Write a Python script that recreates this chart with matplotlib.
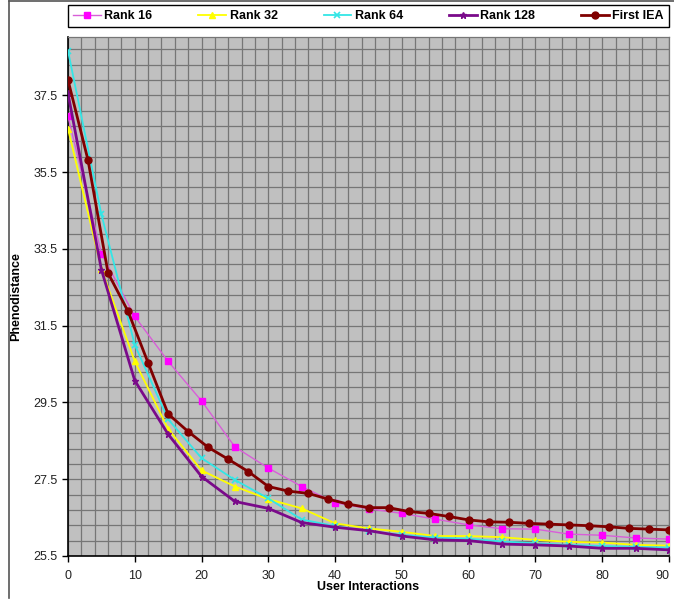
import matplotlib
matplotlib.use("Agg")
import matplotlib.pyplot as plt
from matplotlib.lines import Line2D

# x positions of the markers
x_rank = [0, 5, 10, 15, 20, 25, 30, 35, 40, 45, 50, 55, 60, 65, 70, 75, 80, 85, 90]
x_iea = list(range(0, 91, 3))

rank16 = [36.95, 33.38, 31.74, 30.57, 29.54, 28.34, 27.79, 27.31, 26.89, 26.73,
          26.61, 26.46, 26.31, 26.21, 26.20, 26.07, 26.04, 25.97, 25.94]
rank32 = [36.63, 32.98, 30.57, 28.81, 27.73, 27.31, 26.98, 26.74, 26.35, 26.22,
          26.13, 26.02, 26.02, 25.99, 25.92, 25.87, 25.85, 25.79, 25.77]
rank64 = [38.66, 34.40, 31.00, 29.06, 28.05, 27.48, 27.00, 26.45, 26.28, 26.15,
          26.05, 25.98, 25.95, 25.88, 25.83, 25.79, 25.76, 25.74, 25.72]
rank128 = [37.55, 32.96, 30.07, 28.67, 27.57, 26.92, 26.74, 26.37, 26.25, 26.16,
           26.02, 25.92, 25.90, 25.81, 25.79, 25.76, 25.70, 25.70, 25.66]
first_iea = [37.90, 35.81, 32.87, 31.87, 30.53, 29.20, 28.74, 28.33, 28.02, 27.70,
             27.31, 27.19, 27.13, 26.98, 26.85, 26.76, 26.76, 26.66, 26.61, 26.53,
             26.44, 26.39, 26.38, 26.35, 26.33, 26.31, 26.29, 26.26, 26.22, 26.20, 26.18]

y_ticks = [25.5, 27.5, 29.5, 31.5, 33.5, 35.5, 37.5]
x_ticks = [0, 10, 20, 30, 40, 50, 60, 70, 80, 90]

plt.rcParams['font.family'] = ['Liberation Sans', 'DejaVu Sans']

fig = plt.figure(figsize=(6.74, 6.0), dpi=100)
ax = fig.add_axes([68 / 674, 1 - 556 / 600, 601 / 674, 519 / 600])
ax.set_facecolor('#C0C0C0')

# minor grid: every 2 on x, every 0.4 on y
for gx in range(0, 91, 2):
  ax.axvline(gx, color='#767676', lw=0.9, zorder=1)
gy = 25.5
while gy < 39.0:
  ax.axhline(gy, color='#767676', lw=0.9, zorder=1)
  gy += 0.4

ax.plot(x_rank, rank16, color='#D85ED8', lw=1.0, marker='s', ms=5,
        mfc='#FF00FF', mec='#FF00FF', label='Rank 16', zorder=3)
ax.plot(x_rank, rank32, color='#FFFF00', lw=1.3, marker='^', ms=5,
        mfc='#FFFF00', mec='#FFFF00', label='Rank 32', zorder=3)
ax.plot(x_rank, rank64, color='#33E6E6', lw=1.3, marker='x', ms=5,
        mec='#33E6E6', mew=1.2, label='Rank 64', zorder=3)
ax.plot(x_rank, rank128, color='#7A0A8A', lw=2.0, marker='*', ms=5,
        mfc='#7A0A8A', mec='#7A0A8A', label='Rank 128', zorder=4)
ax.plot(x_iea, first_iea, color='#800000', lw=2.0, marker='o', ms=5,
        mfc='#800000', mec='#800000', label='First IEA', zorder=5)

ax.set_xlim(0, 90)
ax.set_ylim(25.5, 39.02)
ax.set_xticks(x_ticks)
ax.set_xticklabels([str(v) for v in x_ticks])
ax.set_yticks(y_ticks)
ax.set_yticklabels([str(v) for v in y_ticks])
ax.tick_params(axis='both', labelsize=9, color='black', length=4, width=1,
               labelcolor='#222222')
ax.tick_params(axis='x', pad=6)
ax.get_xticklabels()[-1].set_horizontalalignment('right')
ax.get_xticklabels()[-1].set_x(90)

for s in ['left', 'bottom']:
  ax.spines[s].set_color('black')
  ax.spines[s].set_linewidth(1.2)
for s in ['top', 'right']:
  ax.spines[s].set_color('#767676')
  ax.spines[s].set_linewidth(0.9)

ax.set_xlabel('User Interactions', fontsize=9, fontweight='bold', labelpad=-1)
ax.set_ylabel('Phenodistance', fontsize=9, fontweight='bold')
ax.yaxis.set_label_coords((22 - 68) / 601, 0.5)

leg = ax.legend(loc='lower left', bbox_to_anchor=(0, 1 + 10 / 519, 1, 23 / 519),
                ncol=5, mode='expand', borderaxespad=0, fancybox=False,
                framealpha=1, edgecolor='black', handlelength=2.2,
                handletextpad=0.3, prop={'weight': 'bold', 'size': 9})
leg.get_frame().set_linewidth(1.0)

# chart area border (left and top edge visible in the screenshot)
fig.add_artist(Line2D([9 / 674, 9 / 674], [2 / 600, 1 - 1 / 600], color='#555555', lw=1.2))
fig.add_artist(Line2D([9 / 674, 1], [1 - 1 / 600, 1 - 1 / 600], color='#555555', lw=1.2))

fig.savefig('out.png', dpi=100)
